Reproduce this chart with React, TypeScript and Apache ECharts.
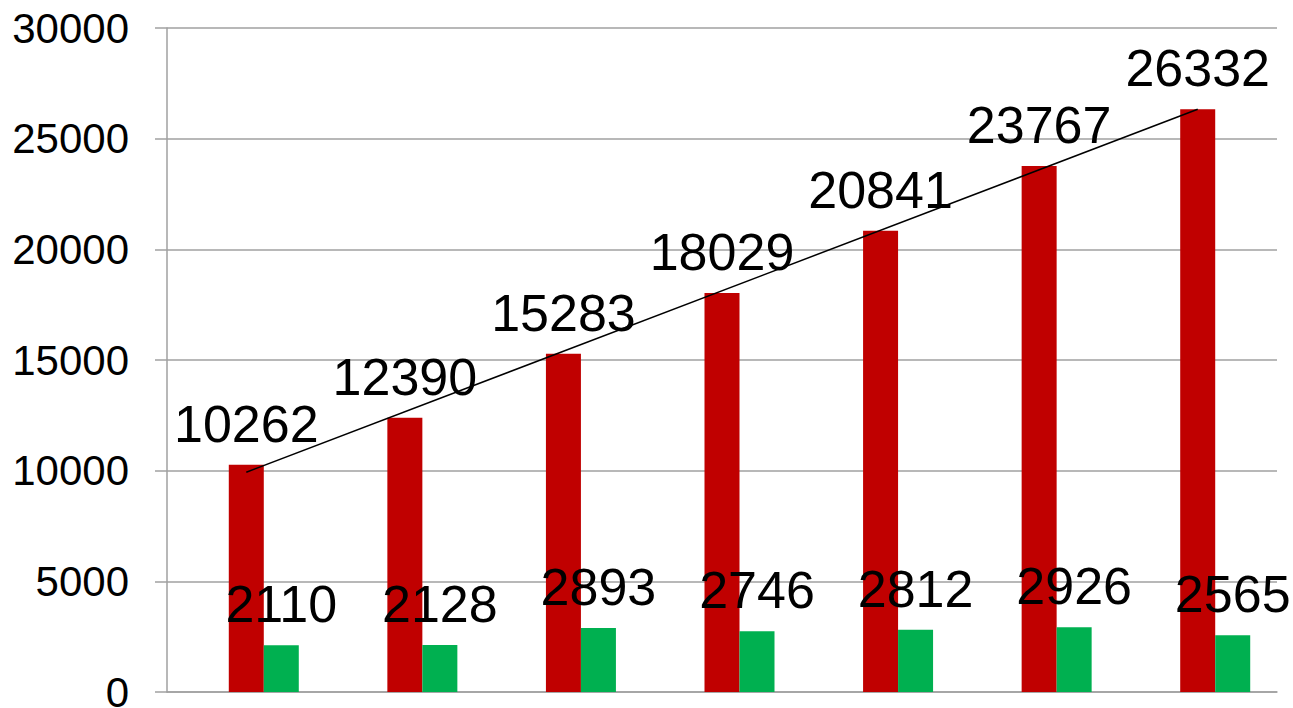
import React, { useEffect, useRef } from "react";
import * as echarts from "echarts";

const categories = ["1", "2", "3", "4", "5", "6", "7"];
const redValues = [10262, 12390, 15283, 18029, 20841, 23767, 26332];
const greenValues = [2110, 2128, 2893, 2746, 2812, 2926, 2565];
const trendStart = 9930;
const trendEnd = 26328;
const yTicks = { min: 0, max: 30000, interval: 5000 };

export default function App() {
  const ref = useRef<HTMLDivElement>(null);
  useEffect(() => {
    document.body.style.margin = "0";
    const chart = echarts.init(ref.current!, undefined, { renderer: "svg" });
    const font = "'Liberation Sans', Arial, sans-serif";
    const trendData = categories.map((_, i) =>
      i === 0 ? trendStart : i === categories.length - 1 ? trendEnd : "-"
    );
    chart.setOption({
      animation: false,
      backgroundColor: "#ffffff",
      grid: {
        left: 167,
        right: 16,
        top: 28,
        bottom: 16,
        containLabel: false,
        outerBoundsMode: "none",
      },
      xAxis: {
        type: "category",
        data: categories,
        axisLine: { show: true, lineStyle: { color: "#a0a0a0", width: 1.5 } },
        axisTick: { show: false },
        axisLabel: { show: false },
      },
      yAxis: {
        type: "value",
        min: yTicks.min,
        max: yTicks.max,
        interval: yTicks.interval,
        axisLine: { show: true, lineStyle: { color: "#a0a0a0", width: 1.5 } },
        axisTick: { show: true, length: 12, lineStyle: { color: "#a0a0a0", width: 1.5 } },
        splitLine: { show: true, lineStyle: { color: "#a0a0a0", width: 1.5 } },
        axisLabel: {
          color: "#000000",
          fontSize: 42,
          fontFamily: font,
          margin: 38,
          formatter: (v: number) => String(v),
        },
      },
      series: [
        {
          type: "bar",
          name: "spacer",
          data: categories.map(() => "-"),
          barWidth: 35,
          barGap: "0%",
        },
        {
          type: "bar",
          name: "red",
          data: redValues,
          barWidth: 35,
          barGap: "0%",
          itemStyle: { color: "#C00000" },
          label: {
            show: true,
            position: "top",
            distance: 15,
            color: "#000000",
            fontSize: 52,
            fontFamily: font,
          },
          z: 2,
        },
        {
          type: "bar",
          name: "green",
          data: greenValues,
          barWidth: 35,
          barGap: "0%",
          itemStyle: { color: "#00B050" },
          label: {
            show: true,
            position: "top",
            distance: 15,
            color: "#000000",
            fontSize: 52,
            fontFamily: font,
          },
          z: 2,
        },
        {
          type: "line",
          name: "trend",
          data: trendData,
          connectNulls: true,
          showSymbol: false,
          symbol: "none",
          lineStyle: { color: "#000000", width: 1.5 },
          z: 3,
        },
      ],
    });
    return () => chart.dispose();
  }, []);
  return (
    <div
      ref={ref}
      style={{ position: "fixed", left: 0, top: 0, width: 1293, height: 708 }}
    />
  );
}
